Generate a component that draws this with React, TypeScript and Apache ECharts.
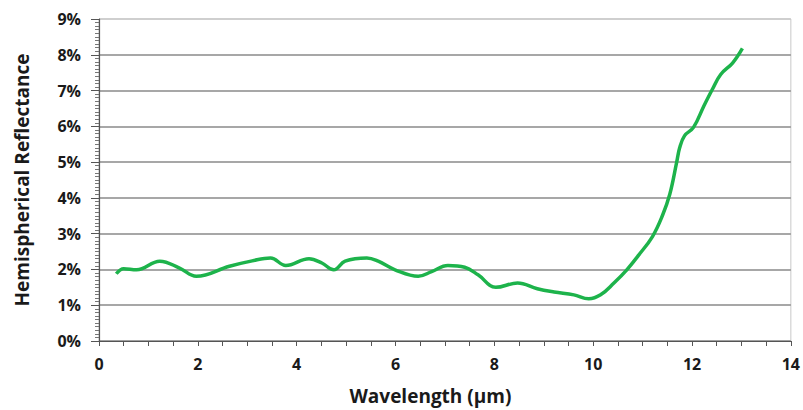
import React, { useEffect, useRef } from "react";
import * as echarts from "echarts";

const wavelength = [0.35, 0.5, 0.76, 1.23, 1.63, 1.97, 2.64, 3.1, 3.47, 3.78, 4.25, 4.51, 4.75, 4.98, 5.42, 5.65, 5.99, 6.46, 6.73, 7.06, 7.4, 7.67, 8.03, 8.47, 8.87, 9.21, 9.61, 9.91, 10.15, 10.42, 10.68, 10.92, 11.2, 11.4, 11.55, 11.69, 11.75, 11.85, 12.03, 12.24, 12.41, 12.58, 12.82, 13.02];
const reflectance = [1.88, 2.02, 1.99, 2.23, 2.04, 1.81, 2.09, 2.24, 2.32, 2.11, 2.3, 2.18, 1.99, 2.23, 2.32, 2.23, 1.99, 1.81, 1.94, 2.11, 2.06, 1.85, 1.5, 1.62, 1.46, 1.37, 1.29, 1.18, 1.29, 1.62, 1.99, 2.4, 2.92, 3.5, 4.1, 5.0, 5.4, 5.74, 5.97, 6.57, 7.03, 7.45, 7.77, 8.18];
const yTicks = [0, 1, 2, 3, 4, 5, 6, 7, 8, 9];
const xTicks = [0, 2, 4, 6, 8, 10, 12, 14];

export default function App() {
  const ref = useRef<HTMLDivElement>(null);
  useEffect(() => {
    const chart = echarts.init(ref.current!, null, { renderer: "svg" });
    const font = "'Open Sans', Lato, sans-serif";
    const splitColors = yTicks.map((v) => (v === 9 ? "#c8c8c8" : "#8a8a8a"));
    chart.setOption({
      animation: false,
      grid: { left: 99, right: 7, top: 19, bottom: 67, show: true, borderColor: "#c8c8c8", borderWidth: 1 },
      xAxis: {
        type: "value",
        min: xTicks[0],
        max: xTicks[xTicks.length - 1],
        interval: 2,
        name: "Wavelength (µm)",
        nameLocation: "middle",
        nameGap: 45,
        nameTextStyle: { fontFamily: font, fontWeight: "bold", fontSize: 19, color: "#1a1a1a", padding: [0, 29, 0, 0] },
        axisLine: { show: true, lineStyle: { color: "#555", width: 1.2 } },
        axisTick: { show: true, length: 5, inside: false, lineStyle: { color: "#555" } },
        minorTick: { show: true, splitNumber: 4, length: 5, lineStyle: { color: "#555" } },
        splitLine: { show: false },
        axisLabel: { fontFamily: font, fontWeight: "bold", fontSize: 16, color: "#1a1a1a", margin: 15 },
      },
      yAxis: {
        type: "value",
        min: yTicks[0],
        max: yTicks[yTicks.length - 1],
        interval: 1,
        name: "Hemispherical Reflectance",
        nameLocation: "middle",
        nameGap: 68,
        nameTextStyle: { fontFamily: font, fontWeight: "bold", fontSize: 19, color: "#1a1a1a" },
        axisLine: { show: true, lineStyle: { color: "#555", width: 1.2 } },
        axisTick: { show: true, length: 8, lineStyle: { color: "#555" } },
        minorTick: { show: true, splitNumber: 10, length: 4, lineStyle: { color: "#777" } },
        splitLine: { show: true, lineStyle: { color: splitColors, width: 1.5 } },
        axisLabel: { fontFamily: font, fontWeight: "bold", fontSize: 16, color: "#1a1a1a", margin: 18, formatter: "{value}%" },
      },
      series: [
        {
          type: "line",
          data: wavelength.map((x, i) => [x, reflectance[i]]),
          smooth: 0.4,
          showSymbol: false,
          lineStyle: { color: "#1db34b", width: 3.5 },
        },
      ],
    });
    return () => chart.dispose();
  }, []);
  return <div ref={ref} style={{ width: 803, height: 410, position: "absolute", left: 0, top: 0, background: "#fff" }} />;
}
